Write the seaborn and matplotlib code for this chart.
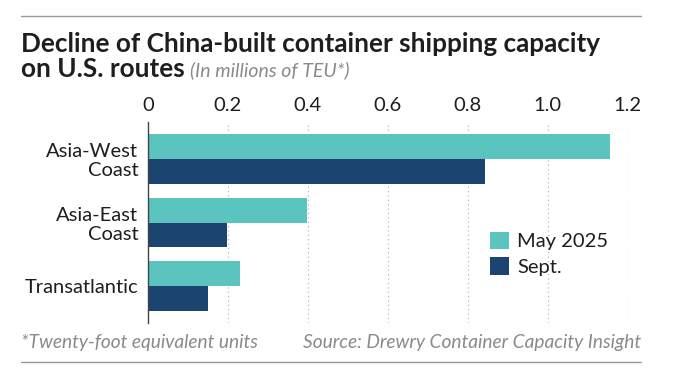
import pandas as pd
import matplotlib
matplotlib.use("Agg")
import matplotlib.pyplot as plt
import seaborn as sns

# --- Data ---
routes = ["Asia-West\nCoast", "Asia-East\nCoast", "Transatlantic"]
may_2025 = [1.155, 0.397, 0.231]
sept = [0.844, 0.197, 0.151]
periods = ["May 2025", "Sept."]
x_ticks = [0, 0.2, 0.4, 0.6, 0.8, 1.0, 1.2]
x_tick_labels = ["0", "0.2", "0.4", "0.6", "0.8", "1.0", "1.2"]

TEAL = "#5bc4be"
NAVY = "#1b4470"
TEXT = "#1e1e1e"
GREY = "#8a8a8a"

df = pd.DataFrame({
    "route": routes * 2,
    "value": may_2025 + sept,
    "period": [periods[0]] * len(routes) + [periods[1]] * len(routes),
})

sns.set_theme(style="white")
plt.rcParams["font.family"] = ["Lato", "DejaVu Sans"]

fig = plt.figure(figsize=(6.9, 3.77), dpi=100)
ax = fig.add_axes([0.2145, 0.1432, 0.6952, 0.5332])

sns.barplot(data=df, y="route", x="value", hue="period", orient="h",
            palette=[TEAL, NAVY], width=0.785, saturation=1, ax=ax,
            linewidth=0)

ax.set_xlim(0, 1.2)
ax.set_ylim(2.58, -0.58)
ax.set_xticks(x_ticks)
ax.set_xticklabels(x_tick_labels)
ax.xaxis.tick_top()
ax.tick_params(axis="x", length=0, pad=6, labelsize=14.5, colors=TEXT)
ax.tick_params(axis="y", length=0, pad=7, labelsize=14.5, colors=TEXT)
for lab in ax.get_yticklabels():
    lab.set_linespacing(1.12)
ax.set_xlabel("")
ax.set_ylabel("")
for s in ["top", "right", "bottom"]:
    ax.spines[s].set_visible(False)
ax.spines["left"].set_color("#444444")
ax.spines["left"].set_linewidth(1.0)
ax.set_axisbelow(True)
for t in x_ticks[1:]:
    ax.axvline(t, color="#b5b5b5", lw=0.9, ls=(0, (1, 2.5)), zorder=0)

leg = ax.legend(loc="upper left", bbox_to_anchor=(0.696, 0.495), frameon=False,
                fontsize=14.5, handlelength=0.95, handleheight=0.95,
                handletextpad=0.4, labelspacing=0.35, borderaxespad=0)
for t in leg.get_texts():
    t.set_color(TEXT)

# --- Titles and rules ---
fig.add_artist(plt.Line2D([0.031, 0.929], [0.958, 0.958], color="#999999", lw=1.0))
fig.add_artist(plt.Line2D([0.031, 0.929], [0.040, 0.040], color="#999999", lw=1.0))

fig.text(0.031, 0.862, "Decline of China-built container shipping capacity",
         fontsize=18.8, fontweight="bold", color=TEXT, va="baseline")
line2 = fig.text(0.031, 0.797, "on U.S. routes", fontsize=18.8, fontweight="bold",
                 color=TEXT, va="baseline")
fig.canvas.draw()
bb = line2.get_window_extent().transformed(fig.transFigure.inverted())
fig.text(bb.x1 + 0.007, 0.797, "(In millions of TEU*)", fontsize=14,
         style="italic", color=GREY, va="baseline")

fig.text(0.031, 0.077, "*Twenty-foot equivalent units", fontsize=13.8,
         style="italic", color=GREY, va="baseline")
fig.text(0.929, 0.077, "Source: Drewry Container Capacity Insight", fontsize=13.8,
         style="italic", color=GREY, va="baseline", ha="right")

fig.savefig("out.png", dpi=100)
